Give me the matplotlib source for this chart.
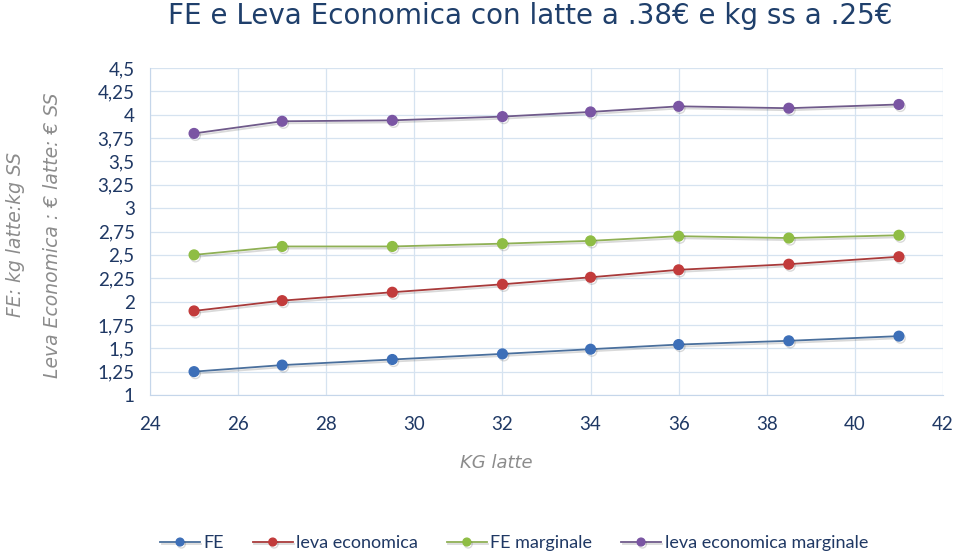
import matplotlib
matplotlib.use("Agg")
import matplotlib.pyplot as plt
from matplotlib.ticker import FuncFormatter, MultipleLocator
import matplotlib.patheffects as pe

x_kg = [25, 27, 29.5, 32, 34, 36, 38.5, 41]
fe = [1.25, 1.32, 1.38, 1.44, 1.49, 1.54, 1.58, 1.63]
leva = [1.90, 2.01, 2.10, 2.185, 2.26, 2.34, 2.40, 2.48]
fe_marg = [2.50, 2.59, 2.59, 2.62, 2.65, 2.70, 2.68, 2.71]
leva_marg = [3.80, 3.93, 3.94, 3.98, 4.03, 4.09, 4.07, 4.11]

series = [
    ("FE", fe, "#3d6fb8", "#4a6f9c"),
    ("leva economica", leva, "#c23b3b", "#a83a3a"),
    ("FE marginale", fe_marg, "#8fbd45", "#8fb055"),
    ("leva economica marginale", leva_marg, "#7a55a3", "#6f5a8a"),
]

fig = plt.figure(figsize=(9.59, 5.59), dpi=100)
ax = fig.add_axes([0.1564, 0.2934, 0.8269, 0.5849])

for name, vals, mc, lc in series:
    ax.plot(x_kg, vals, color=lc, lw=1.3, marker="o", markersize=7,
            markerfacecolor=mc, markeredgecolor=mc, label=name,
            path_effects=[pe.SimpleLineShadow(offset=(1, -1.5), alpha=0.15), pe.Normal()])

ax.set_xlim(24, 42)
ax.set_ylim(1, 4.5)
ax.xaxis.set_major_locator(MultipleLocator(2))
ax.yaxis.set_major_locator(MultipleLocator(0.25))
ax.yaxis.set_major_formatter(FuncFormatter(lambda v, p: ("%g" % v).replace(".", ",")))
ax.grid(True, color="#d6e3f0", lw=0.9)
ax.set_axisbelow(True)
for s in ["top", "right"]:
    ax.spines[s].set_visible(False)
for s in ["left", "bottom"]:
    ax.spines[s].set_color("#c5d6ea")
ax.tick_params(length=0, labelsize=13.5, colors="#1f3864")
ax.tick_params(axis="x", pad=15)
ax.tick_params(axis="y", pad=11)
for lab in ax.get_xticklabels() + ax.get_yticklabels():
    lab.set_family("Lato")

fig.text(0.553, 0.972, "FE e Leva Economica con latte a .38€ e kg ss a .25€",
         ha="center", va="center", fontsize=20, color="#1f3f6b", family="DejaVu Sans")
fig.text(0.016, 0.58, "FE: kg latte:kg SS", rotation=90, ha="center", va="center",
         fontsize=13.5, color="#8c8c8c", style="italic", family="DejaVu Sans")
fig.text(0.055, 0.58, "Leva Economica : € latte: € SS", rotation=90, ha="center", va="center",
         fontsize=13.5, color="#8c8c8c", style="italic", family="DejaVu Sans")
fig.text(0.518, 0.172, "KG latte", ha="center", va="center",
         fontsize=13, color="#8c8c8c", style="italic", family="DejaVu Sans")

leg = fig.legend(loc="center", bbox_to_anchor=(0.536, 0.028), ncol=4, frameon=False,
                 prop={"family": "Lato", "size": 13}, handlelength=2.2,
                 handletextpad=0.2, columnspacing=1.6, markerscale=0.8)
for t in leg.get_texts():
    t.set_color("#1f3864")

fig.savefig("out.png", dpi=100)
